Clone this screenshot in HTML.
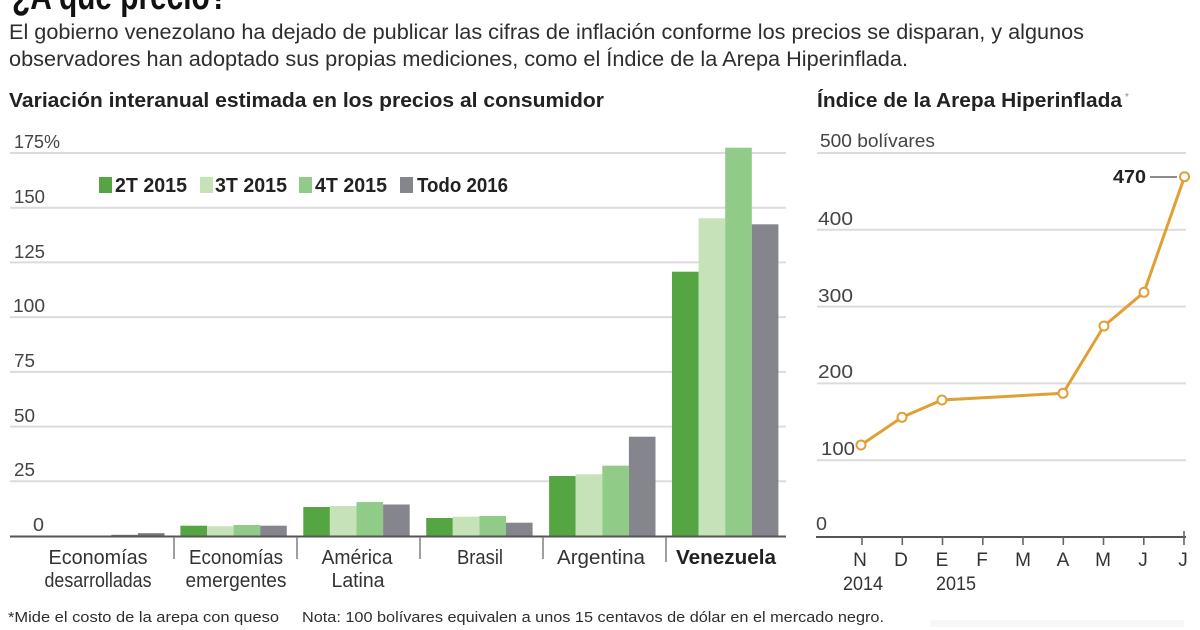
<!DOCTYPE html>
<html>
<head>
<meta charset="utf-8">
<style>
  html,body{margin:0;padding:0;background:#fff;}
  svg{display:block;}
  text{font-family:"Liberation Sans",sans-serif;}
</style>
</head>
<body>
<svg width="1200" height="630" viewBox="0 0 1200 630" xmlns="http://www.w3.org/2000/svg">
  <rect width="1200" height="630" fill="#fff"/>

  <!-- Title (cut off at top) -->
  <text x="12" y="9" font-size="38" font-weight="bold" fill="#111" textLength="216" lengthAdjust="spacingAndGlyphs">¿A qué precio?</text>

  <!-- Subtitle -->
  <text x="9" y="39" font-size="21" fill="#2e2e2e" textLength="1075" lengthAdjust="spacingAndGlyphs">El gobierno venezolano ha dejado de publicar las cifras de inflación conforme los precios se disparan, y algunos</text>
  <text x="9" y="66" font-size="21" fill="#2e2e2e" textLength="899" lengthAdjust="spacingAndGlyphs">observadores han adoptado sus propias mediciones, como el Índice de la Arepa Hiperinflada.</text>

  <!-- Section titles -->
  <text x="9" y="107" font-size="20" font-weight="bold" fill="#222" textLength="595" lengthAdjust="spacingAndGlyphs">Variación interanual estimada en los precios al consumidor</text>
  <text x="817" y="107" font-size="20" font-weight="bold" fill="#222" textLength="305" lengthAdjust="spacingAndGlyphs">Índice de la Arepa Hiperinflada</text>
  <text x="1125" y="100" font-size="10" fill="#888">*</text>

  <!-- LEFT CHART gridlines -->
  <g stroke="#dcdcdc" stroke-width="2">
    <line x1="10" y1="153" x2="786" y2="153"/>
    <line x1="10" y1="207.7" x2="786" y2="207.7"/>
    <line x1="10" y1="262.4" x2="786" y2="262.4"/>
    <line x1="10" y1="317.1" x2="786" y2="317.1"/>
    <line x1="10" y1="371.9" x2="786" y2="371.9"/>
    <line x1="10" y1="426.6" x2="786" y2="426.6"/>
    <line x1="10" y1="481.3" x2="786" y2="481.3"/>
  </g>

  <!-- Left y labels -->
  <g font-size="18" fill="#444">
    <text x="14" y="148" textLength="46" lengthAdjust="spacingAndGlyphs">175%</text>
    <text x="14" y="203" textLength="31" lengthAdjust="spacingAndGlyphs">150</text>
    <text x="14" y="258" textLength="31" lengthAdjust="spacingAndGlyphs">125</text>
    <text x="13" y="312" textLength="32" lengthAdjust="spacingAndGlyphs">100</text>
    <text x="14" y="367" textLength="21" lengthAdjust="spacingAndGlyphs">75</text>
    <text x="14" y="422" textLength="21" lengthAdjust="spacingAndGlyphs">50</text>
    <text x="14" y="476" textLength="21" lengthAdjust="spacingAndGlyphs">25</text>
    <text x="33" y="531" textLength="11" lengthAdjust="spacingAndGlyphs">0</text>
  </g>

  <!-- Legend -->
  <rect x="99" y="177" width="13" height="16" fill="#56a543"/>
  <rect x="200" y="177" width="13" height="16" fill="#c6e2b8"/>
  <rect x="299" y="177" width="13" height="16" fill="#90cc88"/>
  <rect x="400" y="177" width="13" height="16" fill="#85858d"/>
  <g font-size="20" font-weight="bold" fill="#222">
    <text x="115" y="192" textLength="72" lengthAdjust="spacingAndGlyphs">2T 2015</text>
    <text x="215" y="192" textLength="72" lengthAdjust="spacingAndGlyphs">3T 2015</text>
    <text x="315" y="192" textLength="72" lengthAdjust="spacingAndGlyphs">4T 2015</text>
    <text x="417" y="192" textLength="91" lengthAdjust="spacingAndGlyphs">Todo 2016</text>
  </g>

  <!-- Bars -->
  <rect x="111.3" y="534.8" width="26.6" height="1.7" fill="#777"/>
  <rect x="137.9" y="533.2" width="26.6" height="3.3" fill="#777"/>
  <rect x="180.4" y="525.7" width="26.6" height="10.8" fill="#56a543"/>
  <rect x="207" y="526.3" width="26.6" height="10.2" fill="#c6e2b8"/>
  <rect x="233.6" y="525" width="26.6" height="11.5" fill="#90cc88"/>
  <rect x="260.2" y="525.7" width="26.6" height="10.8" fill="#85858d"/>
  <rect x="303.3" y="507" width="26.6" height="29.5" fill="#56a543"/>
  <rect x="329.9" y="506" width="26.6" height="30.5" fill="#c6e2b8"/>
  <rect x="356.5" y="502" width="26.6" height="34.5" fill="#90cc88"/>
  <rect x="383.1" y="504.5" width="26.6" height="32" fill="#85858d"/>
  <rect x="426.2" y="518" width="26.6" height="18.5" fill="#56a543"/>
  <rect x="452.8" y="516.7" width="26.6" height="19.8" fill="#c6e2b8"/>
  <rect x="479.4" y="516" width="26.6" height="20.5" fill="#90cc88"/>
  <rect x="506" y="522.7" width="26.6" height="13.8" fill="#85858d"/>
  <rect x="549.1" y="476" width="26.6" height="60.5" fill="#56a543"/>
  <rect x="575.7" y="474.3" width="26.6" height="62.2" fill="#c6e2b8"/>
  <rect x="602.3" y="465.7" width="26.6" height="70.8" fill="#90cc88"/>
  <rect x="628.9" y="436.7" width="26.6" height="99.8" fill="#85858d"/>
  <rect x="672" y="271.7" width="26.6" height="264.8" fill="#56a543"/>
  <rect x="698.6" y="218.3" width="26.6" height="318.2" fill="#c6e2b8"/>
  <rect x="725.2" y="147.7" width="26.6" height="388.8" fill="#90cc88"/>
  <rect x="751.8" y="224.3" width="26.6" height="312.2" fill="#85858d"/>

  <!-- Left baseline and separators -->
  <line x1="10" y1="536.5" x2="786" y2="536.5" stroke="#555" stroke-width="2"/>
  <g stroke="#888" stroke-width="1.6">
    <line x1="174" y1="537" x2="174" y2="559"/>
    <line x1="297" y1="537" x2="297" y2="559"/>
    <line x1="420" y1="537" x2="420" y2="559"/>
    <line x1="543" y1="537" x2="543" y2="559"/>
    <line x1="666" y1="537" x2="666" y2="562"/>
  </g>

  <!-- Category labels -->
  <g font-size="20" fill="#333" text-anchor="middle">
    <text x="98" y="564" textLength="99" lengthAdjust="spacingAndGlyphs">Economías</text>
    <text x="98" y="587" textLength="107" lengthAdjust="spacingAndGlyphs">desarrolladas</text>
    <text x="236" y="564" textLength="94" lengthAdjust="spacingAndGlyphs">Economías</text>
    <text x="236" y="587" textLength="101" lengthAdjust="spacingAndGlyphs">emergentes</text>
    <text x="357" y="564" textLength="71" lengthAdjust="spacingAndGlyphs">América</text>
    <text x="358" y="587" textLength="53" lengthAdjust="spacingAndGlyphs">Latina</text>
    <text x="480" y="564" textLength="46" lengthAdjust="spacingAndGlyphs">Brasil</text>
    <text x="601" y="564" textLength="88" lengthAdjust="spacingAndGlyphs">Argentina</text>
    <text x="726" y="564" font-weight="bold" fill="#222" textLength="100" lengthAdjust="spacingAndGlyphs">Venezuela</text>
  </g>

  <!-- RIGHT CHART gridlines -->
  <g stroke="#dcdcdc" stroke-width="2">
    <line x1="817" y1="153" x2="1186" y2="153"/>
    <line x1="817" y1="229.8" x2="1186" y2="229.8"/>
    <line x1="817" y1="306.6" x2="1186" y2="306.6"/>
    <line x1="817" y1="383.4" x2="1186" y2="383.4"/>
    <line x1="817" y1="460.2" x2="1186" y2="460.2"/>
  </g>

  <!-- Right y labels -->
  <g font-size="18" fill="#444">
    <text x="820" y="147" textLength="115" lengthAdjust="spacingAndGlyphs">500 bolívares</text>
    <text x="818" y="225" textLength="35" lengthAdjust="spacingAndGlyphs">400</text>
    <text x="818" y="302" textLength="35" lengthAdjust="spacingAndGlyphs">300</text>
    <text x="818" y="378" textLength="35" lengthAdjust="spacingAndGlyphs">200</text>
    <text x="821" y="455" textLength="34" lengthAdjust="spacingAndGlyphs">100</text>
    <text x="816" y="530" textLength="11" lengthAdjust="spacingAndGlyphs">0</text>
  </g>

  <!-- Right baseline & ticks -->
  <line x1="816" y1="537" x2="1186" y2="537" stroke="#555" stroke-width="2"/>
  <g stroke="#666" stroke-width="1.6">
    <line x1="862" y1="537" x2="862" y2="545"/>
    <line x1="902.3" y1="537" x2="902.3" y2="545"/>
    <line x1="942.5" y1="537" x2="942.5" y2="545"/>
    <line x1="982.8" y1="537" x2="982.8" y2="545"/>
    <line x1="1023" y1="537" x2="1023" y2="545"/>
    <line x1="1063.3" y1="537" x2="1063.3" y2="545"/>
    <line x1="1103.5" y1="537" x2="1103.5" y2="545"/>
    <line x1="1143.8" y1="537" x2="1143.8" y2="545"/>
    <line x1="1184" y1="531" x2="1184" y2="545"/>
  </g>

  <!-- Right x labels -->
  <g font-size="19" fill="#333" text-anchor="middle">
    <text x="860" y="566">N</text>
    <text x="901" y="566">D</text>
    <text x="942" y="566">E</text>
    <text x="982" y="566">F</text>
    <text x="1023" y="566">M</text>
    <text x="1063" y="566">A</text>
    <text x="1103" y="566">M</text>
    <text x="1143" y="566">J</text>
    <text x="1183" y="566">J</text>
  </g>
  <g font-size="19" fill="#333">
    <text x="843" y="590" textLength="40" lengthAdjust="spacingAndGlyphs">2014</text>
    <text x="936" y="590" textLength="40" lengthAdjust="spacingAndGlyphs">2015</text>
  </g>

  <!-- Line series -->
  <polyline points="861,445 902,417.3 942,400 1063,393.3 1104,326 1144,292.3 1184.5,176.7"
            fill="none" stroke="#e0a035" stroke-width="3" stroke-linejoin="round"/>
  <g fill="#fff" stroke="#e0a035" stroke-width="2">
    <circle cx="861" cy="445" r="4.5"/>
    <circle cx="902" cy="417.3" r="4.5"/>
    <circle cx="942" cy="400" r="4.5"/>
    <circle cx="1063" cy="393.3" r="4.5"/>
    <circle cx="1104" cy="326" r="4.5"/>
    <circle cx="1144" cy="292.3" r="4.5"/>
    <circle cx="1184.5" cy="176.7" r="4.5"/>
  </g>
  <text x="1113" y="183" font-size="18" font-weight="bold" fill="#222" textLength="33" lengthAdjust="spacingAndGlyphs">470</text>
  <line x1="1150" y1="177" x2="1177" y2="177" stroke="#666" stroke-width="1.5"/>

  <!-- Footnote -->
  <g font-size="15" fill="#2e2e2e">
    <text x="8" y="622" textLength="271" lengthAdjust="spacingAndGlyphs">*Mide el costo de la arepa con queso</text>
    <text x="302" y="622" textLength="582" lengthAdjust="spacingAndGlyphs">Nota: 100 bolívares equivalen a unos 15 centavos de dólar en el mercado negro.</text>
  </g>
  <rect x="930" y="620" width="254" height="7" fill="#f7f7f7"/>
</svg>
</body>
</html>
